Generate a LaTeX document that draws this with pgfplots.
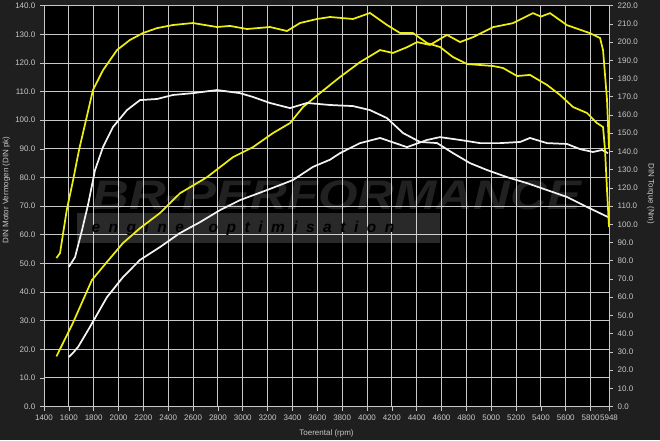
\documentclass[border=0pt]{standalone}
\usepackage{pgfplots}
\pgfplotsset{compat=1.18}
\usepackage{fontspec}
\setmainfont{Liberation Sans}

\definecolor{bgout}{HTML}{1F1F1F}
\definecolor{txt}{HTML}{C8C8C8}
\definecolor{gridc}{HTML}{C8C8C8}
\definecolor{dynoyel}{HTML}{EEEE10}
\definecolor{dynowht}{HTML}{F2F2F2}

% power (DIN pk), left axis
\pgfplotstableread{
rpm pk
1500 17.5
1633 29.2
1786 44.2
1907 50.5
2036 57.1
2173 62.3
2334 67.6
2495 74.5
2712 80.1
2921 87.1
3082 90.6
3243 95.5
3380 99.0
3485 104.6
3622 109.5
3783 115.1
3944 120.3
4105 124.5
4209 123.5
4322 125.5
4403 127.3
4507 126.3
4644 129.8
4749 127.3
4853 129.0
5014 132.5
5175 133.9
5336 137.4
5400 136.2
5473 137.4
5610 133.2
5795 130.4
5876 128.7
5900 124.5
5932 107.1
5948 90.0
}\tunedpower
\pgfplotstableread{
rpm pk
1600 17.3
1633 18.7
1676 20.9
1770 27.8
1907 38.2
2036 45.2
2173 51.2
2334 55.7
2495 60.6
2656 64.4
2817 68.6
2978 72.1
3195 75.6
3404 79.1
3565 83.7
3702 86.2
3783 88.5
3944 92.0
4105 93.8
4322 90.6
4483 93.1
4588 94.1
4749 93.1
4910 92.0
5071 92.0
5232 92.4
5312 93.8
5449 92.0
5610 91.7
5715 89.9
5819 88.9
5892 89.6
5940 88.5
}\stockpower
% torque (Nm), right axis
\pgfplotstableread{
rpm nm
1500 81.5
1529 84.2
1583 107.8
1631 123.2
1682 140.8
1738 157.2
1794 173.7
1875 184.6
1988 195.7
2092 201.2
2197 205.0
2310 207.7
2438 209.4
2599 210.5
2793 208.3
2897 208.9
3034 207.2
3219 208.3
3356 206.1
3461 210.5
3598 212.7
3702 213.8
3887 212.7
4024 216.0
4161 209.4
4266 205.0
4370 205.0
4483 199.5
4588 197.3
4692 191.8
4805 188.0
5014 186.9
5095 185.8
5208 181.4
5312 182.0
5449 176.5
5554 171.0
5658 164.4
5771 161.1
5851 155.6
5900 153.4
5916 140.8
5932 118.8
5948 98.5
}\tunedtorque
\pgfplotstableread{
rpm nm
1600 76.6
1650 82.0
1706 96.8
1754 110.6
1811 129.8
1875 142.4
1955 153.4
2068 162.7
2173 168.2
2310 168.8
2438 171.0
2599 172.0
2793 173.7
2978 172.0
3082 169.9
3219 166.6
3380 163.8
3517 166.6
3702 165.5
3887 164.9
4024 162.7
4161 158.3
4290 150.1
4427 145.2
4564 144.6
4692 139.1
4829 133.6
4966 129.8
5127 125.9
5288 122.6
5449 118.8
5610 115.0
5771 109.5
5940 104.0
}\stocktorque

\pgfplotsset{
  dyno/.style={
    scale only axis, width=423.75pt, height=300.6pt,
    at={(33pt,25.125pt)}, anchor=south west,
    xmin=1400, xmax=5948,
    xtick={1400,1600,...,5800,5948},
    axis line style={draw=none},
    tick style={txt, line width=0.5pt},
    major tick length=3pt, tick align=outside,
    ticklabel style={font=\fontsize{6}{7}\selectfont, text=txt},
    label style={font=\fontsize{6}{7}\selectfont, text=txt},
    yticklabel style={/pgf/number format/.cd, fixed, fixed zerofill, precision=1},
    xticklabel style={/pgf/number format/set thousands separator={}},
    /pgf/number format/assume math mode=true,
  },
  tuned/.style={dynoyel, line width=1.3pt},
  stock/.style={dynowht, line width=1.3pt},
}

\begin{document}
\begin{tikzpicture}[x=0.75pt,y=0.75pt]
\useasboundingbox (0,0) rectangle (660,440);
\fill[bgout] (0,0) rectangle (660,440);

\begin{axis}[dyno,
    ymin=0, ymax=140, ytick={0,10,...,140},
    axis y line*=left, axis x line*=bottom,
    axis background/.style={fill=black},
    grid=major, grid style={gridc, line width=0.65pt},
    xlabel={Toerental (rpm)},
    ylabel={DIN Motor Vermogen (DIN pk)},
    ylabel style={at={(ticklabel cs:0.54,-3pt)}},
  ]
  % watermark
  \fill[white, opacity=0.16] (rel axis cs:0.058,0.408) rectangle (rel axis cs:0.70,0.482);
  \node[text=white, opacity=0.13, font=\bfseries\itshape\fontsize{31}{31}\selectfont]
    at (rel axis cs:0.518,0.528) {\scalebox{1.23}[1]{BR-PERFORMANCE}};
  \node[text=black, font=\bfseries\itshape\fontsize{11.6}{12}\selectfont]
    at (rel axis cs:0.352,0.445)
    {e\hspace{0.55em}n\hspace{0.55em}g\hspace{0.55em}i\hspace{0.55em}n\hspace{0.55em}e\hspace{1.6em}o\hspace{0.55em}p\hspace{0.55em}t\hspace{0.55em}i\hspace{0.55em}m\hspace{0.55em}i\hspace{0.55em}s\hspace{0.55em}a\hspace{0.55em}t\hspace{0.55em}i\hspace{0.55em}o\hspace{0.55em}n};

  \addplot[stock] table[x=rpm, y=pk] {\stockpower};
  \addplot[tuned] table[x=rpm, y=pk] {\tunedpower};
\end{axis}

\begin{axis}[dyno,
    ymin=0, ymax=220, ytick={0,10,...,220},
    axis y line*=right, axis x line=none,
    ylabel={DIN Torque (Nm)},
    ylabel style={at={(ticklabel cs:0.53)}, rotate=180},
  ]
  \addplot[stock] table[x=rpm, y=nm] {\stocktorque};
  \addplot[tuned] table[x=rpm, y=nm] {\tunedtorque};
\end{axis}
\end{tikzpicture}
\end{document}
